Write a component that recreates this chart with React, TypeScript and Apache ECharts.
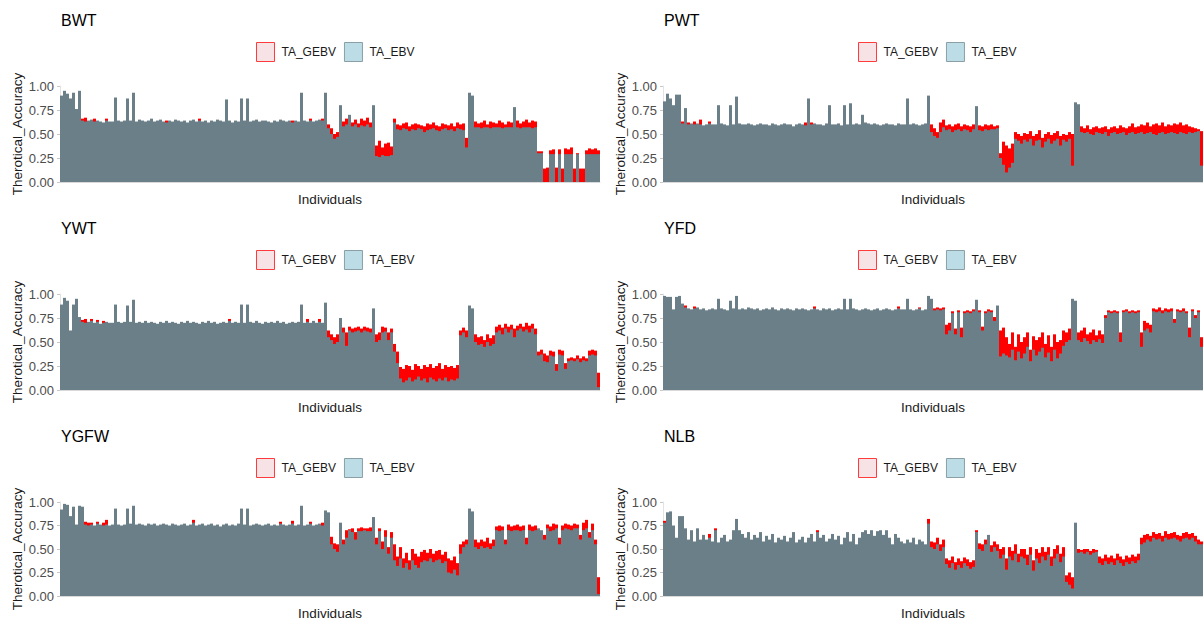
import React, { useEffect, useRef } from "react";
import * as echarts from "echarts";

// ---------- data (180 individuals per trait) ----------
const traitNames = ["BWT", "PWT", "YWT", "YFD", "YGFW", "NLB"];
const seriesNames = ["TA_GEBV", "TA_EBV"];
const yTicks = [0, 0.25, 0.5, 0.75, 1];
const individuals = Array.from({ length: 180 }, (_, i) => `ID${i + 1}`);

const BWT_EBV = [
  0.90,0.95,0.92,0.87,0.93,0.76,0.95,0.64,0.63,0.64,
  0.65,0.63,0.64,0.63,0.62,0.64,0.63,0.63,0.88,0.64,
  0.63,0.64,0.87,0.64,0.93,0.63,0.65,0.64,0.63,0.64,
  0.66,0.63,0.64,0.65,0.63,0.62,0.64,0.63,0.65,0.64,
  0.63,0.64,0.62,0.64,0.65,0.63,0.64,0.63,0.64,0.62,
  0.64,0.63,0.65,0.64,0.63,0.86,0.64,0.62,0.64,0.63,
  0.87,0.64,0.87,0.63,0.64,0.65,0.63,0.64,0.64,0.63,
  0.62,0.64,0.63,0.65,0.64,0.63,0.64,0.62,0.64,0.63,
  0.93,0.64,0.63,0.64,0.63,0.64,0.65,0.64,0.93,0.56,
  0.50,0.45,0.47,0.80,0.58,0.60,0.70,0.58,0.60,0.57,
  0.59,0.58,0.60,0.57,0.80,0.27,0.26,0.28,0.27,0.27,
  0.28,0.62,0.55,0.54,0.56,0.55,0.53,0.55,0.54,0.56,
  0.55,0.52,0.54,0.55,0.56,0.54,0.53,0.55,0.56,0.54,
  0.55,0.53,0.56,0.55,0.54,0.36,0.93,0.90,0.57,0.57,
  0.56,0.57,0.57,0.56,0.57,0.57,0.57,0.56,0.57,0.57,
  0.57,0.78,0.57,0.56,0.57,0.57,0.57,0.56,0.57,0.30,
  0.30,0.00,0.00,0.29,0.29,0.00,0.29,0.00,0.29,0.29,
  0.29,0.00,0.29,0.00,0.00,0.29,0.29,0.29,0.29,0.29,
];
const BWT_GEBV = [
  0.88,0.93,0.90,0.85,0.91,0.74,0.93,0.66,0.67,0.63,
  0.64,0.66,0.63,0.62,0.61,0.66,0.62,0.62,0.86,0.63,
  0.62,0.63,0.85,0.63,0.91,0.62,0.64,0.63,0.62,0.63,
  0.65,0.62,0.63,0.64,0.62,0.64,0.63,0.62,0.64,0.63,
  0.62,0.63,0.61,0.63,0.64,0.62,0.66,0.62,0.63,0.61,
  0.63,0.62,0.64,0.63,0.62,0.84,0.63,0.61,0.63,0.62,
  0.85,0.63,0.85,0.62,0.63,0.64,0.62,0.63,0.63,0.62,
  0.61,0.63,0.62,0.64,0.63,0.62,0.63,0.64,0.62,0.62,
  0.91,0.63,0.62,0.66,0.62,0.63,0.64,0.66,0.91,0.60,
  0.56,0.50,0.52,0.78,0.63,0.66,0.68,0.62,0.65,0.61,
  0.66,0.64,0.67,0.62,0.79,0.38,0.43,0.36,0.40,0.41,
  0.37,0.66,0.60,0.59,0.61,0.62,0.58,0.60,0.61,0.60,
  0.59,0.58,0.61,0.60,0.62,0.59,0.58,0.61,0.60,0.59,
  0.61,0.58,0.62,0.60,0.61,0.46,0.91,0.88,0.63,0.61,
  0.62,0.64,0.60,0.63,0.62,0.61,0.64,0.62,0.60,0.63,
  0.62,0.77,0.64,0.61,0.63,0.65,0.62,0.64,0.63,0.32,
  0.32,0.14,0.15,0.33,0.34,0.15,0.34,0.14,0.35,0.34,
  0.36,0.14,0.30,0.14,0.14,0.33,0.35,0.34,0.35,0.33,
];

const PWT_EBV = [
  0.84,0.92,0.87,0.80,0.91,0.91,0.61,0.77,0.60,0.61,
  0.60,0.61,0.60,0.59,0.60,0.61,0.60,0.60,0.80,0.61,
  0.60,0.59,0.80,0.60,0.89,0.61,0.60,0.60,0.61,0.60,
  0.59,0.60,0.61,0.60,0.60,0.59,0.61,0.60,0.59,0.60,
  0.61,0.60,0.60,0.58,0.60,0.61,0.60,0.59,0.87,0.60,
  0.61,0.60,0.60,0.59,0.61,0.80,0.60,0.60,0.61,0.59,
  0.80,0.60,0.82,0.60,0.61,0.60,0.70,0.62,0.61,0.60,
  0.61,0.60,0.59,0.60,0.61,0.60,0.60,0.59,0.61,0.60,
  0.60,0.87,0.60,0.61,0.60,0.59,0.60,0.61,0.90,0.52,
  0.48,0.46,0.52,0.57,0.54,0.55,0.52,0.54,0.55,0.53,
  0.55,0.54,0.52,0.55,0.79,0.54,0.53,0.55,0.54,0.55,
  0.55,0.56,0.25,0.18,0.10,0.15,0.20,0.45,0.43,0.40,
  0.44,0.42,0.45,0.38,0.43,0.44,0.36,0.42,0.45,0.40,
  0.43,0.45,0.38,0.44,0.42,0.45,0.17,0.83,0.81,0.52,
  0.51,0.52,0.50,0.49,0.52,0.51,0.50,0.52,0.48,0.51,
  0.52,0.50,0.51,0.52,0.49,0.51,0.52,0.50,0.51,0.52,
  0.50,0.51,0.52,0.50,0.49,0.51,0.52,0.50,0.51,0.52,
  0.51,0.50,0.52,0.51,0.50,0.52,0.51,0.52,0.53,0.17,
];
const PWT_GEBV = [
  0.82,0.90,0.85,0.78,0.89,0.89,0.63,0.75,0.62,0.60,
  0.63,0.60,0.65,0.58,0.59,0.63,0.59,0.59,0.78,0.60,
  0.59,0.58,0.78,0.59,0.87,0.60,0.59,0.59,0.60,0.59,
  0.58,0.59,0.60,0.59,0.59,0.58,0.60,0.59,0.58,0.59,
  0.60,0.59,0.59,0.57,0.59,0.60,0.59,0.62,0.85,0.62,
  0.60,0.59,0.59,0.58,0.60,0.78,0.59,0.59,0.60,0.58,
  0.78,0.59,0.80,0.59,0.60,0.59,0.68,0.61,0.60,0.59,
  0.60,0.59,0.58,0.59,0.60,0.59,0.59,0.58,0.60,0.59,
  0.59,0.85,0.59,0.60,0.59,0.58,0.59,0.60,0.88,0.60,
  0.56,0.52,0.62,0.65,0.59,0.60,0.58,0.60,0.61,0.58,
  0.60,0.59,0.58,0.60,0.78,0.59,0.58,0.60,0.59,0.60,
  0.58,0.59,0.30,0.42,0.38,0.35,0.40,0.52,0.50,0.48,
  0.51,0.50,0.53,0.48,0.50,0.54,0.46,0.50,0.52,0.49,
  0.51,0.53,0.48,0.50,0.49,0.52,0.50,0.81,0.79,0.58,
  0.56,0.59,0.55,0.57,0.58,0.56,0.57,0.58,0.55,0.57,
  0.58,0.56,0.59,0.57,0.56,0.58,0.61,0.57,0.58,0.60,
  0.59,0.62,0.58,0.60,0.61,0.59,0.62,0.58,0.60,0.59,
  0.61,0.60,0.62,0.59,0.60,0.58,0.57,0.56,0.55,0.53,
];

const YWT_EBV = [
  0.89,0.96,0.93,0.62,0.89,0.95,0.76,0.71,0.70,0.71,
  0.72,0.70,0.71,0.69,0.70,0.71,0.70,0.70,0.89,0.71,
  0.70,0.71,0.88,0.71,0.94,0.70,0.71,0.70,0.72,0.70,
  0.71,0.70,0.69,0.71,0.70,0.72,0.70,0.71,0.70,0.69,
  0.71,0.70,0.72,0.70,0.71,0.70,0.69,0.71,0.70,0.72,
  0.70,0.71,0.69,0.70,0.71,0.70,0.72,0.70,0.71,0.70,
  0.89,0.70,0.89,0.71,0.70,0.72,0.70,0.69,0.71,0.70,
  0.71,0.70,0.72,0.70,0.71,0.69,0.70,0.71,0.70,0.71,
  0.89,0.70,0.71,0.70,0.72,0.70,0.71,0.70,0.91,0.55,
  0.52,0.48,0.50,0.75,0.60,0.46,0.62,0.60,0.61,0.62,
  0.60,0.62,0.61,0.60,0.85,0.50,0.52,0.60,0.61,0.52,
  0.60,0.40,0.28,0.12,0.08,0.10,0.13,0.09,0.11,0.14,
  0.10,0.12,0.08,0.13,0.11,0.09,0.12,0.10,0.13,0.09,
  0.11,0.10,0.12,0.57,0.60,0.55,0.88,0.85,0.50,0.47,
  0.48,0.45,0.50,0.46,0.48,0.60,0.62,0.58,0.64,0.60,
  0.63,0.55,0.62,0.64,0.61,0.63,0.60,0.64,0.58,0.36,
  0.37,0.30,0.29,0.36,0.35,0.20,0.37,0.36,0.22,0.30,
  0.31,0.30,0.32,0.29,0.31,0.30,0.36,0.37,0.36,0.03,
];
const YWT_GEBV = [
  0.87,0.94,0.91,0.60,0.87,0.93,0.74,0.73,0.74,0.70,
  0.74,0.69,0.73,0.68,0.72,0.70,0.69,0.69,0.87,0.70,
  0.69,0.70,0.86,0.70,0.92,0.69,0.70,0.69,0.71,0.69,
  0.70,0.69,0.68,0.70,0.69,0.71,0.69,0.70,0.69,0.68,
  0.70,0.69,0.71,0.69,0.70,0.69,0.68,0.70,0.69,0.71,
  0.69,0.70,0.68,0.69,0.70,0.69,0.74,0.69,0.70,0.69,
  0.87,0.69,0.87,0.70,0.69,0.71,0.69,0.68,0.70,0.69,
  0.70,0.69,0.71,0.69,0.70,0.68,0.69,0.70,0.69,0.70,
  0.87,0.69,0.74,0.69,0.71,0.69,0.74,0.69,0.89,0.62,
  0.58,0.55,0.58,0.74,0.65,0.60,0.66,0.64,0.65,0.66,
  0.64,0.66,0.65,0.64,0.83,0.58,0.60,0.66,0.65,0.60,
  0.64,0.48,0.40,0.24,0.22,0.26,0.25,0.21,0.27,0.25,
  0.22,0.26,0.24,0.27,0.23,0.25,0.28,0.22,0.26,0.24,
  0.25,0.23,0.26,0.62,0.65,0.62,0.86,0.83,0.58,0.55,
  0.56,0.52,0.58,0.54,0.57,0.66,0.68,0.65,0.69,0.66,
  0.68,0.64,0.67,0.69,0.66,0.70,0.67,0.69,0.64,0.40,
  0.42,0.38,0.36,0.41,0.40,0.27,0.42,0.41,0.28,0.33,
  0.34,0.33,0.36,0.33,0.35,0.33,0.41,0.42,0.41,0.18,
];

const YFD_EBV = [
  0.98,0.97,0.97,0.84,0.97,0.98,0.90,0.86,0.85,0.84,
  0.85,0.86,0.84,0.85,0.83,0.84,0.85,0.84,0.95,0.85,
  0.84,0.83,0.93,0.85,0.98,0.84,0.85,0.84,0.86,0.85,
  0.84,0.85,0.83,0.84,0.85,0.84,0.86,0.84,0.83,0.85,
  0.84,0.85,0.84,0.83,0.85,0.84,0.85,0.84,0.83,0.84,
  0.85,0.84,0.83,0.85,0.84,0.85,0.83,0.84,0.85,0.84,
  0.95,0.84,0.95,0.85,0.84,0.83,0.84,0.85,0.84,0.83,
  0.84,0.85,0.83,0.84,0.85,0.84,0.83,0.84,0.85,0.84,
  0.84,0.95,0.84,0.83,0.84,0.85,0.83,0.84,0.98,0.95,
  0.83,0.84,0.83,0.84,0.58,0.62,0.80,0.58,0.81,0.55,
  0.80,0.81,0.80,0.82,0.94,0.81,0.62,0.80,0.82,0.81,
  0.72,0.88,0.35,0.38,0.36,0.34,0.42,0.31,0.40,0.33,
  0.38,0.45,0.30,0.42,0.36,0.40,0.44,0.34,0.39,0.30,
  0.42,0.33,0.38,0.46,0.50,0.52,0.95,0.93,0.52,0.50,
  0.54,0.51,0.48,0.52,0.50,0.53,0.49,0.75,0.81,0.80,
  0.81,0.80,0.50,0.81,0.82,0.80,0.81,0.80,0.81,0.45,
  0.62,0.64,0.60,0.82,0.81,0.82,0.80,0.82,0.81,0.82,
  0.70,0.82,0.81,0.82,0.80,0.55,0.82,0.75,0.81,0.45,
];
const YFD_GEBV = [
  0.96,0.95,0.95,0.82,0.95,0.96,0.88,0.88,0.84,0.83,
  0.87,0.85,0.83,0.84,0.82,0.83,0.84,0.83,0.93,0.84,
  0.83,0.82,0.91,0.84,0.96,0.83,0.84,0.83,0.85,0.84,
  0.83,0.84,0.82,0.83,0.84,0.83,0.85,0.83,0.82,0.84,
  0.83,0.84,0.83,0.82,0.84,0.83,0.84,0.83,0.82,0.83,
  0.87,0.83,0.82,0.84,0.83,0.84,0.82,0.83,0.84,0.83,
  0.93,0.83,0.93,0.84,0.83,0.82,0.83,0.84,0.83,0.82,
  0.83,0.84,0.82,0.83,0.84,0.83,0.82,0.83,0.87,0.83,
  0.83,0.93,0.83,0.82,0.83,0.86,0.82,0.83,0.96,0.93,
  0.85,0.86,0.85,0.86,0.68,0.70,0.82,0.64,0.83,0.65,
  0.82,0.83,0.82,0.84,0.92,0.83,0.66,0.82,0.84,0.83,
  0.76,0.86,0.62,0.65,0.55,0.48,0.60,0.45,0.58,0.50,
  0.55,0.60,0.42,0.56,0.52,0.55,0.60,0.48,0.57,0.45,
  0.58,0.50,0.52,0.62,0.60,0.64,0.93,0.91,0.60,0.62,
  0.65,0.58,0.60,0.63,0.57,0.62,0.58,0.78,0.83,0.82,
  0.83,0.82,0.60,0.83,0.84,0.82,0.83,0.82,0.83,0.60,
  0.72,0.70,0.68,0.85,0.84,0.86,0.83,0.85,0.84,0.85,
  0.74,0.84,0.83,0.85,0.82,0.65,0.84,0.78,0.83,0.55,
];

const YGFW_EBV = [
  0.92,0.98,0.97,0.85,0.95,0.76,0.96,0.95,0.76,0.75,
  0.76,0.75,0.77,0.76,0.75,0.76,0.75,0.76,0.93,0.76,
  0.75,0.76,0.93,0.77,0.96,0.76,0.77,0.76,0.75,0.77,
  0.76,0.77,0.75,0.76,0.77,0.76,0.75,0.77,0.76,0.75,
  0.76,0.77,0.75,0.76,0.78,0.75,0.76,0.77,0.75,0.76,
  0.77,0.75,0.76,0.74,0.76,0.77,0.75,0.76,0.75,0.77,
  0.93,0.76,0.93,0.75,0.76,0.77,0.76,0.75,0.76,0.77,
  0.75,0.76,0.75,0.77,0.76,0.75,0.76,0.77,0.75,0.76,
  0.96,0.75,0.76,0.77,0.75,0.76,0.77,0.75,0.91,0.89,
  0.55,0.50,0.47,0.78,0.55,0.62,0.70,0.68,0.60,0.69,
  0.69,0.70,0.69,0.69,0.84,0.55,0.69,0.50,0.63,0.45,
  0.62,0.38,0.32,0.40,0.30,0.35,0.28,0.38,0.33,0.30,
  0.36,0.38,0.37,0.40,0.36,0.38,0.39,0.35,0.37,0.25,
  0.24,0.28,0.22,0.45,0.52,0.55,0.93,0.90,0.52,0.50,
  0.53,0.51,0.52,0.50,0.53,0.70,0.69,0.70,0.55,0.70,
  0.69,0.70,0.70,0.69,0.70,0.55,0.70,0.69,0.70,0.72,
  0.70,0.60,0.72,0.69,0.70,0.72,0.55,0.70,0.72,0.71,
  0.70,0.72,0.72,0.60,0.70,0.72,0.62,0.70,0.55,0.02,
];
const YGFW_GEBV = [
  0.90,0.96,0.95,0.83,0.93,0.74,0.94,0.93,0.79,0.78,
  0.78,0.74,0.79,0.75,0.78,0.81,0.74,0.75,0.91,0.75,
  0.74,0.75,0.91,0.76,0.94,0.75,0.76,0.75,0.74,0.76,
  0.75,0.76,0.74,0.75,0.76,0.75,0.74,0.76,0.75,0.74,
  0.75,0.76,0.74,0.75,0.81,0.74,0.75,0.76,0.74,0.75,
  0.76,0.74,0.75,0.73,0.75,0.76,0.74,0.75,0.74,0.76,
  0.91,0.75,0.91,0.74,0.75,0.76,0.75,0.74,0.75,0.76,
  0.74,0.75,0.74,0.79,0.75,0.74,0.75,0.80,0.74,0.75,
  0.94,0.74,0.75,0.79,0.74,0.75,0.76,0.78,0.89,0.87,
  0.63,0.56,0.55,0.77,0.60,0.70,0.71,0.72,0.68,0.72,
  0.73,0.72,0.72,0.73,0.83,0.62,0.72,0.58,0.70,0.52,
  0.68,0.55,0.42,0.52,0.40,0.46,0.38,0.50,0.45,0.42,
  0.47,0.49,0.46,0.50,0.45,0.48,0.49,0.44,0.47,0.40,
  0.38,0.42,0.35,0.55,0.58,0.60,0.91,0.88,0.60,0.57,
  0.60,0.58,0.62,0.56,0.60,0.74,0.75,0.74,0.60,0.76,
  0.74,0.75,0.76,0.74,0.75,0.62,0.76,0.74,0.75,0.70,
  0.68,0.65,0.76,0.74,0.77,0.76,0.62,0.75,0.77,0.76,
  0.75,0.77,0.76,0.65,0.78,0.81,0.68,0.77,0.60,0.20,
];

const NLB_EBV = [
  0.78,0.89,0.90,0.75,0.62,0.85,0.85,0.72,0.60,0.70,
  0.58,0.72,0.60,0.65,0.60,0.62,0.58,0.70,0.57,0.62,
  0.65,0.58,0.60,0.70,0.82,0.70,0.66,0.62,0.68,0.60,
  0.65,0.62,0.68,0.58,0.64,0.60,0.66,0.57,0.62,0.60,
  0.64,0.58,0.62,0.68,0.57,0.60,0.63,0.57,0.62,0.66,
  0.58,0.68,0.62,0.65,0.58,0.61,0.66,0.60,0.64,0.55,
  0.62,0.68,0.58,0.66,0.55,0.62,0.68,0.70,0.66,0.70,
  0.64,0.69,0.70,0.65,0.70,0.62,0.55,0.66,0.62,0.58,
  0.56,0.60,0.57,0.62,0.55,0.60,0.58,0.55,0.77,0.52,
  0.50,0.55,0.48,0.52,0.34,0.30,0.35,0.28,0.33,0.30,
  0.35,0.32,0.29,0.31,0.68,0.50,0.48,0.55,0.65,0.47,
  0.52,0.48,0.40,0.44,0.28,0.42,0.38,0.45,0.36,0.42,
  0.40,0.33,0.44,0.27,0.40,0.35,0.42,0.38,0.44,0.32,
  0.40,0.45,0.36,0.42,0.15,0.12,0.08,0.78,0.46,0.47,
  0.45,0.47,0.44,0.46,0.47,0.35,0.33,0.37,0.34,0.36,
  0.33,0.38,0.35,0.32,0.36,0.34,0.37,0.35,0.38,0.55,
  0.57,0.60,0.58,0.62,0.60,0.61,0.58,0.62,0.60,0.61,
  0.62,0.60,0.58,0.61,0.62,0.60,0.62,0.58,0.55,0.55,
];
const NLB_GEBV = [
  0.80,0.87,0.88,0.73,0.60,0.83,0.83,0.70,0.58,0.68,
  0.56,0.70,0.58,0.63,0.58,0.66,0.56,0.72,0.55,0.60,
  0.63,0.56,0.58,0.68,0.80,0.68,0.64,0.60,0.66,0.58,
  0.63,0.60,0.66,0.56,0.62,0.58,0.64,0.55,0.60,0.58,
  0.62,0.56,0.60,0.66,0.55,0.58,0.61,0.55,0.60,0.64,
  0.56,0.70,0.60,0.63,0.56,0.59,0.64,0.58,0.62,0.53,
  0.60,0.66,0.56,0.64,0.53,0.60,0.66,0.68,0.64,0.68,
  0.62,0.67,0.68,0.63,0.68,0.60,0.53,0.64,0.60,0.56,
  0.54,0.58,0.55,0.60,0.53,0.58,0.56,0.53,0.82,0.58,
  0.57,0.62,0.55,0.60,0.40,0.38,0.42,0.36,0.40,0.37,
  0.41,0.39,0.36,0.38,0.70,0.56,0.55,0.60,0.64,0.54,
  0.58,0.55,0.50,0.52,0.40,0.52,0.48,0.55,0.45,0.50,
  0.50,0.44,0.52,0.38,0.50,0.46,0.52,0.47,0.52,0.42,
  0.50,0.54,0.45,0.52,0.22,0.25,0.20,0.77,0.50,0.49,
  0.50,0.50,0.48,0.50,0.49,0.42,0.40,0.44,0.41,0.43,
  0.40,0.45,0.42,0.39,0.43,0.41,0.44,0.42,0.45,0.62,
  0.65,0.66,0.64,0.68,0.66,0.67,0.64,0.69,0.66,0.67,
  0.68,0.65,0.64,0.67,0.68,0.66,0.67,0.64,0.60,0.58,
];

const gebvByTrait = [BWT_GEBV, PWT_GEBV, YWT_GEBV, YFD_GEBV, YGFW_GEBV, NLB_GEBV];
const ebvByTrait = [BWT_EBV, PWT_EBV, YWT_EBV, YFD_EBV, YGFW_EBV, NLB_EBV];

// ---------- layout ----------
const FONT = "'Liberation Sans', Arial, Helvetica, sans-serif";
const colLeft = [60, 663];
const plotWidth = 540;
const rowTop = [86, 294, 502];
const plotHeight = 96;
const RED = "#ff0000";
const GREY = "#6b7f88";

export default function App() {
  const ref = useRef<HTMLDivElement>(null);

  useEffect(() => {
    if (!ref.current) return;
    const chart = echarts.init(ref.current, null, { renderer: "svg" });

    const grids: any[] = [];
    const xAxes: any[] = [];
    const yAxes: any[] = [];
    const titles: any[] = [];
    const legends: any[] = [];
    const series: any[] = [];

    traitNames.forEach((name, i) => {
      const col = i % 2;
      const row = Math.floor(i / 2);
      const left = colLeft[col];
      const top = rowTop[row];
      grids.push({ left, top, width: plotWidth, height: plotHeight, containLabel: false });
      xAxes.push({
        type: "category",
        gridIndex: i,
        data: individuals,
        axisLabel: { show: false },
        axisTick: { show: false },
        axisLine: { show: true, lineStyle: { color: "#d9d9d9", width: 1 } },
        splitLine: { show: false },
        name: "Individuals",
        nameLocation: "middle",
        nameGap: 10,
        nameTextStyle: { fontFamily: FONT, fontSize: 13.5, color: "#1a1a1a" },
      });
      yAxes.push({
        type: "value",
        gridIndex: i,
        min: yTicks[0],
        max: yTicks[yTicks.length - 1],
        interval: 0.25,
        axisLabel: {
          fontFamily: FONT,
          fontSize: 13,
          color: "#4d4d4d",
          margin: 6,
          formatter: (v: number) => v.toFixed(2),
        },
        axisTick: { show: true, length: 3, lineStyle: { color: "#c8c8c8" } },
        axisLine: { show: true, lineStyle: { color: "#e3e3e3" } },
        splitLine: { show: false },
        name: "Therotical_Accuracy",
        nameLocation: "middle",
        nameGap: 35,
        nameRotate: 90,
        nameTextStyle: { fontFamily: FONT, fontSize: 13.5, color: "#1a1a1a" },
      });
      titles.push({
        text: name,
        left: left + 1,
        top: top - 74,
        padding: 0,
        textStyle: { fontFamily: FONT, fontSize: 16, fontWeight: "normal", color: "#000" },
      });
      legends.push({
        left: col === 0 ? 256 : 858,
        top: top - 44,
        padding: 0,
        itemWidth: 18,
        itemHeight: 19,
        itemGap: 8,
        icon: "rect",
        selectedMode: false,
        textStyle: { fontFamily: FONT, fontSize: 12, color: "#1a1a1a", padding: [0, 0, 0, 2] },
        data: [
          { name: seriesNames[0], itemStyle: { color: "#f7e3e6", borderColor: "#ff3b3b", borderWidth: 1 } },
          { name: seriesNames[1], itemStyle: { color: "#bcdde6", borderColor: "#8a9ea6", borderWidth: 1 } },
        ],
      });
      series.push({
        name: seriesNames[0],
        type: "bar",
        xAxisIndex: i,
        yAxisIndex: i,
        data: gebvByTrait[i],
        barGap: "-100%",
        barCategoryGap: "0%",
        itemStyle: { color: RED },
        silent: true,
      });
      series.push({
        name: seriesNames[1],
        type: "bar",
        xAxisIndex: i,
        yAxisIndex: i,
        data: ebvByTrait[i],
        barGap: "-100%",
        barCategoryGap: "0%",
        itemStyle: { color: GREY },
        silent: true,
      });
    });

    chart.setOption({
      animation: false,
      backgroundColor: "#ffffff",
      textStyle: { fontFamily: FONT },
      title: titles,
      legend: legends,
      grid: grids,
      xAxis: xAxes,
      yAxis: yAxes,
      series,
    });

    return () => chart.dispose();
  }, []);

  return (
    <div
      ref={ref}
      style={{ position: "absolute", left: 0, top: 0, width: 1203, height: 621, background: "#fff" }}
    />
  );
}
